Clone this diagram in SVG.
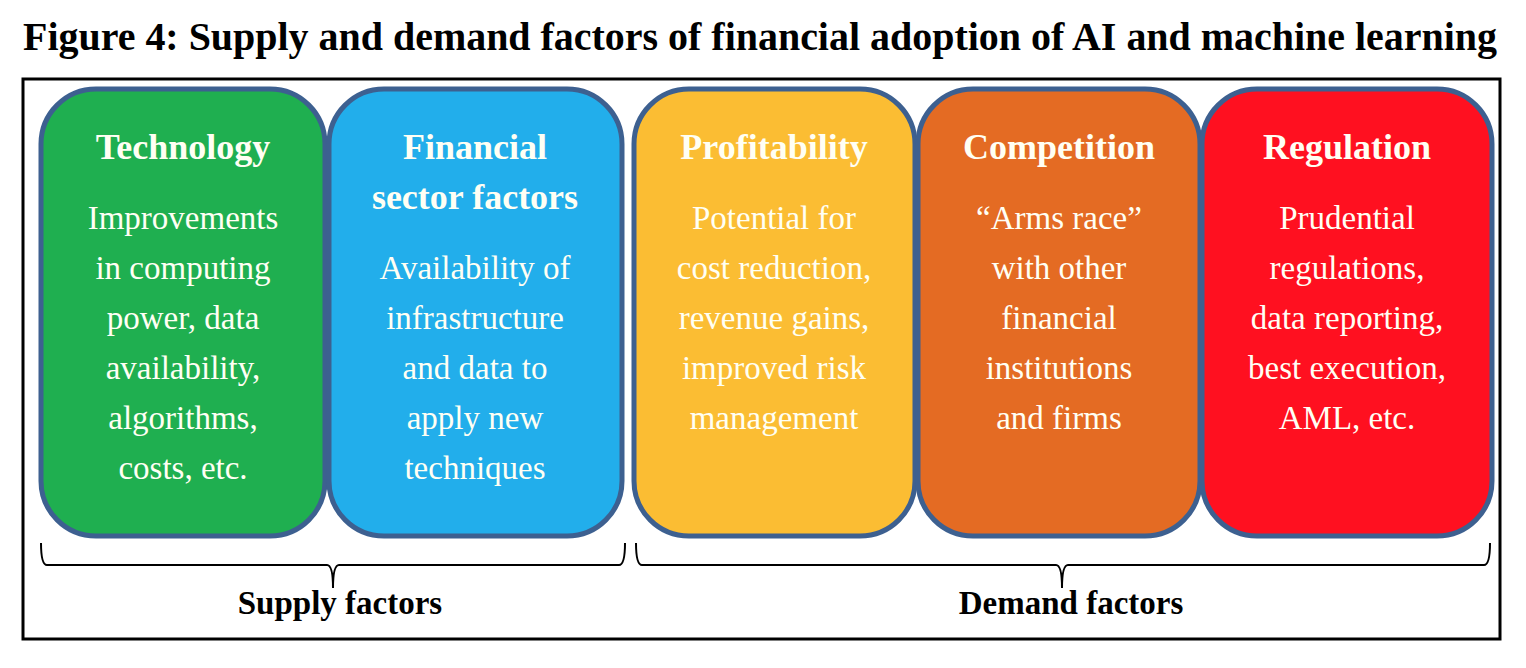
<svg xmlns="http://www.w3.org/2000/svg" width="1526" height="668" viewBox="0 0 1526 668">
<style>
.box{stroke:#3D6090;stroke-width:5}
.h{font-family:"Liberation Serif",serif;font-weight:bold;font-size:36px;fill:#FFFFF4;text-anchor:middle}
.b{font-family:"Liberation Serif",serif;font-size:33px;fill:#FFFFF4;text-anchor:middle}
.lbl{font-family:"Liberation Serif",serif;font-weight:bold;font-size:33px;fill:#000;text-anchor:middle}
.brace{fill:none;stroke:#000;stroke-width:2}
</style>
<rect width="1526" height="668" fill="#fff"/>
<text x="760" y="50" font-family="Liberation Serif, serif" font-weight="bold" font-size="39" text-anchor="middle" fill="#000" textLength="1474" lengthAdjust="spacingAndGlyphs">Figure 4: Supply and demand factors of financial adoption of AI and machine learning</text>
<rect x="23" y="79" width="1477" height="560" fill="none" stroke="#000" stroke-width="3"/>
<g id="technology">
<rect class="box" x="41" y="89" width="284" height="447" rx="55" fill="#1FAF50"/>
<text class="h" x="183" y="159">Technology</text>
<text class="b" x="183" y="229">Improvements</text>
<text class="b" x="183" y="279">in computing</text>
<text class="b" x="183" y="329">power, data</text>
<text class="b" x="183" y="379">availability,</text>
<text class="b" x="183" y="429">algorithms,</text>
<text class="b" x="183" y="479">costs, etc.</text>
</g>
<g id="financial">
<rect class="box" x="329" y="89" width="293" height="447" rx="55" fill="#22AEEB"/>
<text class="h" x="475" y="159">Financial</text>
<text class="h" x="475" y="209">sector factors</text>
<text class="b" x="475" y="279">Availability of</text>
<text class="b" x="475" y="329">infrastructure</text>
<text class="b" x="475" y="379">and data to</text>
<text class="b" x="475" y="429">apply new</text>
<text class="b" x="475" y="479">techniques</text>
</g>
<g id="profitability">
<rect class="box" x="634" y="89" width="281" height="447" rx="55" fill="#FBBD33"/>
<text class="h" x="774" y="159">Profitability</text>
<text class="b" x="774" y="229">Potential for</text>
<text class="b" x="774" y="279">cost reduction,</text>
<text class="b" x="774" y="329">revenue gains,</text>
<text class="b" x="774" y="379">improved risk</text>
<text class="b" x="774" y="429">management</text>
</g>
<g id="competition">
<rect class="box" x="918" y="89" width="282" height="447" rx="55" fill="#E46B23"/>
<text class="h" x="1059" y="159">Competition</text>
<text class="b" x="1059" y="229">“Arms race”</text>
<text class="b" x="1059" y="279">with other</text>
<text class="b" x="1059" y="329">financial</text>
<text class="b" x="1059" y="379">institutions</text>
<text class="b" x="1059" y="429">and firms</text>
</g>
<g id="regulation">
<rect class="box" x="1202" y="89" width="290" height="447" rx="55" fill="#FF1020"/>
<text class="h" x="1347" y="159">Regulation</text>
<text class="b" x="1347" y="229">Prudential</text>
<text class="b" x="1347" y="279">regulations,</text>
<text class="b" x="1347" y="329">data reporting,</text>
<text class="b" x="1347" y="379">best execution,</text>
<text class="b" x="1347" y="429">AML, etc.</text>
</g>
<g id="connectors">
<path class="brace" d="M41,543 Q41,565 47,565 L327,565 Q333,565 333,588 Q333,565 339,565 L619,565 Q625,565 625,543"/>
<path class="brace" d="M636,543 Q636,565 642,565 L1056,565 Q1062,565 1062,588 Q1062,565 1068,565 L1484,565 Q1490,565 1490,543"/>
</g>
<text class="lbl" x="340" y="614">Supply factors</text>
<text class="lbl" x="1071" y="614">Demand factors</text>
</svg>
